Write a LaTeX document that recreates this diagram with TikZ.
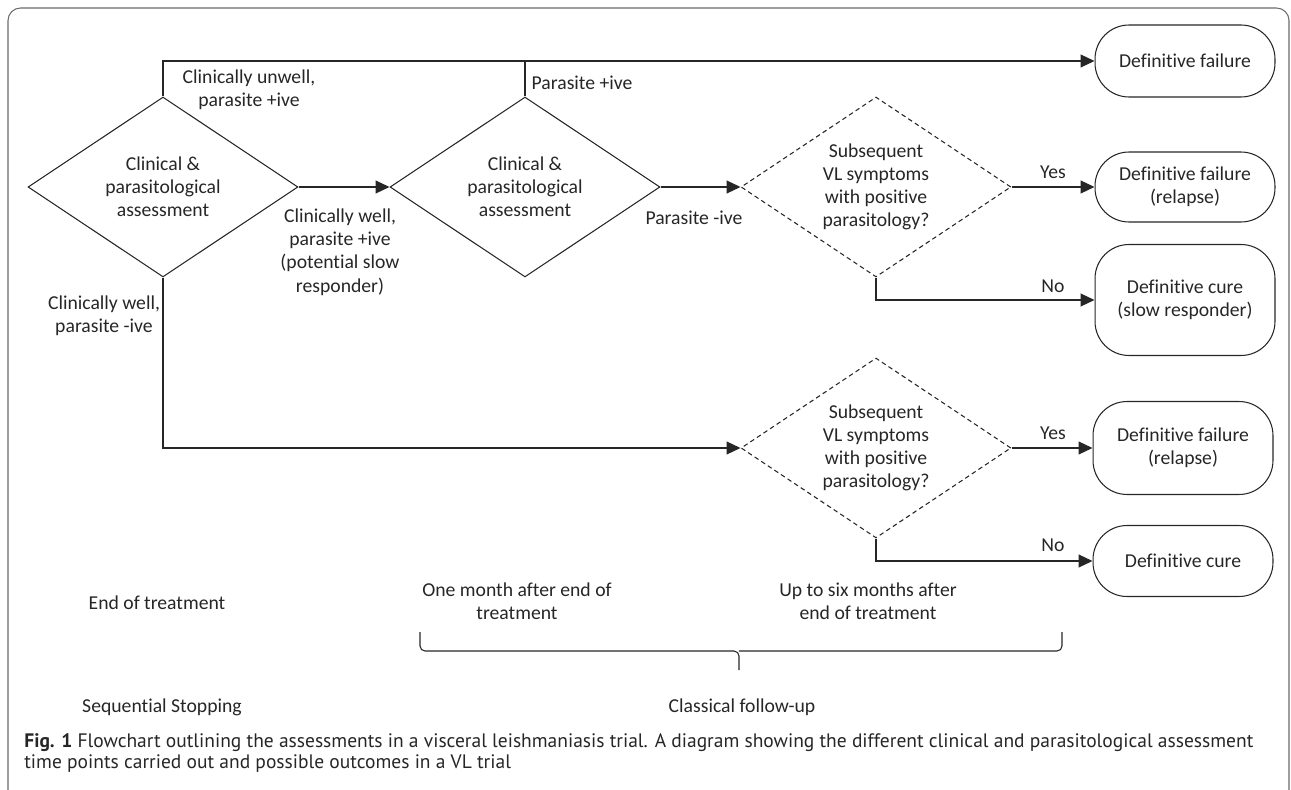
\documentclass[tikz,border=0pt]{standalone}
\usepackage{fontspec}
\setmainfont{Carlito}[Ligatures=NoCommon]
\newfontfamily\capfont{PT Sans}
\usetikzlibrary{shapes.geometric, arrows.meta}
\definecolor{ink}{HTML}{262626}
\definecolor{frame}{HTML}{6A6A6A}

\begin{document}
\begin{tikzpicture}[
        x=0.02cm, y=-0.02cm,
        font=\fontsize{11.2}{13.2}\selectfont,
        every node/.style={text=ink},
        decision/.style={diamond, draw=ink, line width=0.6pt, minimum width=5.4cm, minimum height=3.6cm, inner sep=0pt, shape aspect=1.5, align=center},
        followup/.style={decision, dash pattern=on 2.6pt off 1.9pt},
        outcome/.style={rectangle, draw=ink, line width=0.6pt, rounded corners=0.68cm, minimum width=3.6cm, align=center},
        arrow/.style={-{Triangle[length=0.28cm, width=0.26cm]}, draw=ink, line width=0.6pt},
        link/.style={draw=ink, line width=0.6pt},
        txt/.style={align=center, inner sep=0pt}
    ]
        \useasboundingbox (0,0) rectangle (1291,790);
        % Page frame
        \draw[frame, line width=0.6pt, rounded corners=0.25cm] (8,800) -- (8,8) -- (1289,8) -- (1289,800);

        % Assessments
        \node[decision] (evalEnd) at (163,187) {Clinical \&\\parasitological\\assessment};
        \node[decision] (evalMonth) at (525,187) {Clinical \&\\parasitological\\assessment};
        \node[followup] (checkSlow) at (876,187) {Subsequent\\VL symptoms\\with positive\\parasitology?};
        \node[followup] (checkCure) at (876,448) {Subsequent\\VL symptoms\\with positive\\parasitology?};

        % Outcomes
        \node[outcome, minimum height=1.44cm] (failTop) at (1185,61) {Definitive failure};
        \node[outcome, minimum height=1.40cm] (failSlow) at (1185,187) {Definitive failure\\(relapse)};
        \node[outcome, minimum height=2.22cm] (cureSlow) at (1185,300) {Definitive cure\\(slow responder)};
        \node[outcome, minimum height=1.86cm] (failLate) at (1183,448) {Definitive failure\\(relapse)};
        \node[outcome, minimum height=1.42cm] (cureLate) at (1183,561) {Definitive cure};

        % Connectors
        \draw[arrow] (evalEnd.north) |- (failTop.west);
        \draw[link] (evalMonth.north) -- (evalMonth.north |- failTop.west);
        \draw[arrow] (evalEnd.east) -- (evalMonth.west);
        \draw[arrow] (evalMonth.east) -- (checkSlow.west);
        \draw[arrow] (checkSlow.east) -- (failSlow.west);
        \draw[arrow] (checkSlow.south) |- (cureSlow.west);
        \draw[arrow] (evalEnd.south) |- (checkCure.west);
        \draw[arrow] (checkCure.east) -- (failLate.west);
        \draw[arrow] (checkCure.south) |- (cureLate.west);

        % Connector labels
        \node[txt] (lblUnwell) at (249,90) {Clinically unwell,\\parasite +ive};
        \node[txt] (lblPosTwo) at (582,83) {Parasite +ive};
        \node[txt] (lblSlow) at (340,252) {Clinically well,\\parasite +ive\\(potential slow\\responder)};
        \node[txt] (lblNegTwo) at (694,218) {Parasite -ive};
        \node[txt] (lblWell) at (104,316) {Clinically well,\\parasite -ive};
        \node[txt] (yesSlow) at (1053,172) {Yes};
        \node[txt] (noSlow) at (1053,286) {No};
        \node[txt] (yesLate) at (1053,433) {Yes};
        \node[txt] (noLate) at (1053,545) {No};

        % Time points
        \node[txt] (tEnd) at (157,603) {End of treatment};
        \node[txt] (tMonth) at (517,601) {One month after end of\\treatment};
        \node[txt] (tSix) at (868,601) {Up to six months after\\end of treatment};
        \draw[link, rounded corners=0.1cm] (420,632) -- (420,651) -- (739,651) -- (739,670);
        \draw[link, rounded corners=0.1cm] (1062,632) -- (1062,651) -- (739,651);
        \node[txt] (sSeq) at (162,707) {Sequential Stopping};
        \node[txt] (sClassic) at (742,707) {Classical follow-up};

        % Caption
        \node[anchor=west, align=left, inner sep=0pt, font=\capfont\fontsize{11.1}{12.5}\selectfont] (caption) at (24,753)
            {\textbf{Fig. 1} Flowchart outlining the assessments in a visceral leishmaniasis trial. A diagram showing the different clinical and parasitological assessment\\time points carried out and possible outcomes in a VL trial};
    \end{tikzpicture}
\end{document}
